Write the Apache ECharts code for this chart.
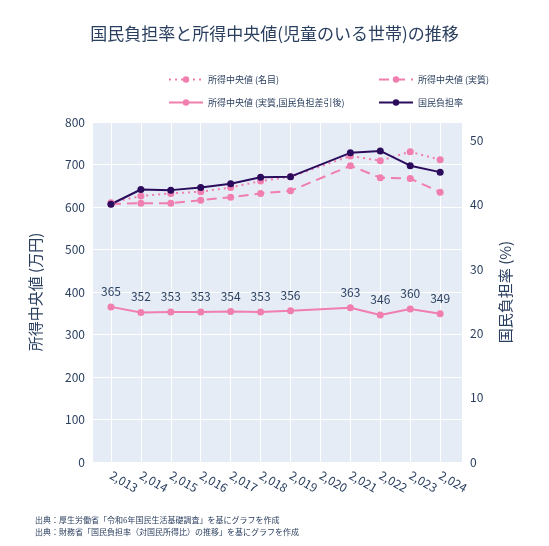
<!DOCTYPE html>
<html>
<head>
	<meta charset="UTF-8" />
	<title>国民負担率と所得中央値</title>
	<style>
		body { margin: 0; background: #fff; }
		#chart { width: 549px; height: 546px; }
	</style>
	<script src="https://cdn.jsdelivr.net/npm/echarts@6/dist/echarts.min.js"></script>
</head>
<body>
	<div id="chart"></div>
	<script>
		var years = [2013, 2014, 2015, 2016, 2017, 2018, 2019, 2021, 2022, 2023, 2024];
		var tickYears = [2013, 2014, 2015, 2016, 2017, 2018, 2019, 2020, 2021, 2022, 2023, 2024];
		var nominal = [610, 626, 632, 636, 646, 661, 671, 720, 709, 730, 711];
		var real = [607, 609, 609, 616, 623, 632, 638, 697, 669, 667, 635];
		var realAfter = [365, 352, 353, 353, 354, 353, 356, 363, 346, 360, 349];
		var burden = [40.1, 42.4, 42.3, 42.7, 43.3, 44.3, 44.4, 48.1, 48.4, 46.1, 45.1];
		var names = ["所得中央値 (名目)", "所得中央値 (実質)", "所得中央値 (実質,国民負担差引後)", "国民負担率"];

		var pink = "#f07eae";
		var navy = "#2b0c5c";
		var textColor = "#2a3f5f";
		var font = "Noto Sans CJK JP";

		function pairs(vals) {
			return years.map(function (y, i) { return [y, vals[i]]; });
		}

		// 凡例は2行2列に配置
		var legendPos = [[163, 70], [373, 70], [163, 93], [373, 93]];
		var legends = names.map(function (n, i) {
			return {
				left: legendPos[i][0], top: legendPos[i][1],
				itemWidth: 34, itemHeight: 8, itemGap: 10,
				textStyle: { fontSize: 9, color: textColor, fontFamily: font },
				data: [n]
			};
		});

		var chart = echarts.init(document.getElementById("chart"));
		chart.setOption({
			animation: false,
			textStyle: { fontFamily: font, color: textColor },
			title: {
				text: "国民負担率と所得中央値(児童のいる世帯)の推移",
				left: "center", top: 20,
				textStyle: { fontSize: 17, fontWeight: "normal", color: textColor, fontFamily: font }
			},
			legend: legends,
			grid: { left: 93, right: 87, top: 122, bottom: 84, backgroundColor: "#e5ecf6", show: true, borderWidth: 0 },
			xAxis: {
				type: "value", min: 2012.4, max: 2024.73,
				axisLine: { show: false }, axisTick: { show: false, customValues: tickYears },
				axisLabel: { customValues: tickYears, rotate: -30, color: textColor, fontSize: 12, margin: 12 },
				splitLine: { show: true, lineStyle: { color: "#fff", width: 1 } }
			},
			yAxis: [{
				type: "value", min: 0, max: 800, interval: 100,
				name: "所得中央値 (万円)", nameLocation: "middle", nameGap: 50,
				nameTextStyle: { fontSize: 15, color: textColor },
				axisLine: { show: false }, axisTick: { show: false },
				axisLabel: { color: textColor, fontSize: 12 },
				splitLine: { lineStyle: { color: "#fff", width: 1 } }
			}, {
				type: "value", min: 0, max: 52.9, interval: 10,
				name: "国民負担率 (%)", nameLocation: "middle", nameGap: 36, nameRotate: 90,
				nameTextStyle: { fontSize: 15, color: textColor },
				axisLine: { show: false }, axisTick: { show: false },
				axisLabel: { color: textColor, fontSize: 12, showMaxLabel: false },
				splitLine: { show: false }
			}],
			graphic: [{
				type: "text", left: 35, top: 514,
				style: { text: "出典：厚生労働省「令和6年国民生活基礎調査」を基にグラフを作成\n出典：財務省「国民負担率（対国民所得比）の推移」を基にグラフを作成", fontSize: 8, lineHeight: 12, fill: textColor, fontFamily: font }
			}],
			series: [{
				name: names[0], type: "line", data: pairs(nominal),
				symbol: "circle", symbolSize: 7, itemStyle: { color: pink },
				lineStyle: { color: pink, width: 2, type: [2, 4] }
			}, {
				name: names[1], type: "line", data: pairs(real),
				symbol: "circle", symbolSize: 7, itemStyle: { color: pink },
				lineStyle: { color: pink, width: 2, type: [10, 6] }
			}, {
				name: names[2], type: "line", data: pairs(realAfter),
				symbol: "circle", symbolSize: 7, itemStyle: { color: pink },
				lineStyle: { color: pink, width: 2 },
				label: { show: true, position: "top", distance: 6, color: textColor, fontSize: 12 }
			}, {
				name: names[3], type: "line", yAxisIndex: 1, data: pairs(burden),
				symbol: "circle", symbolSize: 7, itemStyle: { color: navy },
				lineStyle: { color: navy, width: 2 }
			}]
		});
	</script>
</body>
</html>
